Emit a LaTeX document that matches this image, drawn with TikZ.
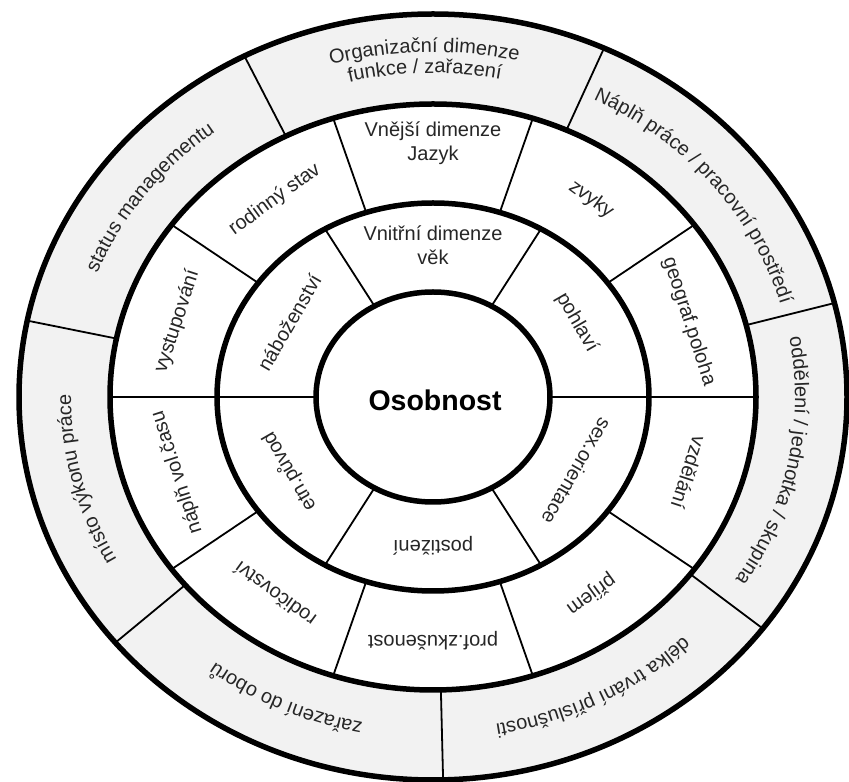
\documentclass[tikz,border=0pt]{standalone}
\usepackage{fontspec}
\setmainfont{Liberation Sans}
\usetikzlibrary{decorations.text}

\newcommand{\ringfont}{\fontsize{20}{24}\selectfont}
\newcommand{\corefont}{\bfseries\fontsize{28.5}{32}\selectfont}

\begin{document}
\begin{tikzpicture}[x=1pt, y=1pt,
		ring/.style={line width=5.5pt},
		divider/.style={line width=1.8pt},
		lbl/.style={font=\ringfont, text=black!85, inner sep=1pt},
		arclbl/.style={decorate, decoration={text along path, text align=center, text color=black!85}}]
	\fill[white] (0,0) rectangle (849,782);
	\useasboundingbox (0,0) rectangle (849,782);
	\begin{scope}[shift={(433,385)}]
		% outer ring, light gray
		\fill[black!5, even odd rule] (0,0) ellipse [x radius=414, y radius=383]
			(0,0) ellipse [x radius=323, y radius=293];
		\draw[divider]
			% inner ring, 6 parts
			(0:117 and 105) -- (0:216 and 194)
			(60:117 and 105) -- (60:216 and 194)
			(120:117 and 105) -- (120:216 and 194)
			(180:117 and 105) -- (180:216 and 194)
			(240:117 and 105) -- (240:216 and 194)
			(300:117 and 105) -- (300:216 and 194)
			% middle ring, 10 parts
			(0:216 and 194) -- (0:323 and 293)
			(36:216 and 194) -- (36:323 and 293)
			(72:216 and 194) -- (72:323 and 293)
			(108:216 and 194) -- (108:323 and 293)
			(144:216 and 194) -- (144:323 and 293)
			(180:216 and 194) -- (180:323 and 293)
			(216:216 and 194) -- (216:323 and 293)
			(252:216 and 194) -- (252:323 and 293)
			(288:216 and 194) -- (288:323 and 293)
			(324:216 and 194) -- (324:323 and 293)
			% outer ring, 7 parts
			(14.2:323 and 293) -- (14.2:414 and 383)
			(65.6:323 and 293) -- (65.6:414 and 383)
			(117.1:323 and 293) -- (117.1:414 and 383)
			(168.5:323 and 293) -- (168.5:414 and 383)
			(219.9:323 and 293) -- (219.9:414 and 383)
			(271.4:323 and 293) -- (271.4:414 and 383)
			(322.8:323 and 293) -- (322.8:414 and 383);
		\draw[ring] (0,0) ellipse [x radius=414, y radius=383];
		\draw[ring] (0,0) ellipse [x radius=323, y radius=293];
		\draw[ring] (0,0) ellipse [x radius=216, y radius=194];
		\draw[ring, fill=white] (0,0) ellipse [x radius=117, y radius=105];

		\node[font=\corefont] (osobnost) at (2,-3) {Osobnost};

		% inner ring
		\node[lbl, align=center] (vnitrni) at (0,152) {Vnitřní dimenze\\věk};
		\node[lbl, rotate=-60] (pohlavi) at (30:166 and 149) {pohlaví};
		\node[lbl, rotate=-120] (sexorient) at (-30:166 and 149) {sex.orientace};
		\node[lbl, rotate=180] (postizeni) at (-90:166 and 149) {postižení};
		\node[lbl, rotate=120] (etnpuvod) at (210:166 and 149) {etn.původ};
		\node[lbl, rotate=60] (nabozenstvi) at (150:166 and 149) {náboženství};

		% middle ring
		\node[lbl, align=center] (vnejsi) at (0,254) {Vnější dimenze\\Jazyk};
		\node[lbl, rotate=-36] (zvyky) at (54:269 and 244) {zvyky};
		\node[lbl, rotate=-72] (geograf) at (18:269 and 244) {geograf.poloha};
		\node[lbl, rotate=-108] (vzdelani) at (-18:269 and 244) {vzdělání};
		\node[lbl, rotate=-144] (prijem) at (-54:269 and 244) {příjem};
		\node[lbl, rotate=180] (profzkus) at (-90:269 and 244) {prof.zkušenost};
		\node[lbl, rotate=144] (rodicovstvi) at (234:269 and 244) {rodičovství};
		\node[lbl, rotate=108] (volcas) at (198:269 and 244) {náplň vol.času};
		\node[lbl, rotate=72] (vystupovani) at (162:269 and 244) {vystupování};
		\node[lbl, rotate=36] (rodstav) at (126:269 and 244) {rodinný stav};

		% outer ring, text along the arcs
		\path[arclbl, decoration={text={|\ringfont|Organizační dimenze}}]
			(117.1:377 and 345) arc[start angle=117.1, end angle=65.6, x radius=377, y radius=345];
		\path[arclbl, decoration={text={|\ringfont|funkce / zařazení}}]
			(117.1:354 and 324) arc[start angle=117.1, end angle=65.6, x radius=354, y radius=324];
		\path[arclbl, decoration={text={|\ringfont|Náplň práce / pracovní prostředí}}]
			(65.6:362 and 332) arc[start angle=65.6, end angle=14.2, x radius=362, y radius=332];
		\path[arclbl, decoration={text={|\ringfont|oddělení / jednotka / skupina}}]
			(14.2:362 and 332) arc[start angle=14.2, end angle=-37.2, x radius=362, y radius=332];
		\path[arclbl, decoration={text={|\ringfont|délka trvání příslušnosti}}]
			(-37.2:362 and 332) arc[start angle=-37.2, end angle=-88.6, x radius=362, y radius=332];
		\path[arclbl, decoration={text={|\ringfont|zařazení do oborů}}]
			(271.4:362 and 332) arc[start angle=271.4, end angle=219.9, x radius=362, y radius=332];
		\path[arclbl, decoration={text={|\ringfont|místo výkonu práce}}]
			(219.9:362 and 332) arc[start angle=219.9, end angle=168.5, x radius=362, y radius=332];
		\path[arclbl, decoration={text={|\ringfont|status managementu}}]
			(168.5:362 and 332) arc[start angle=168.5, end angle=117.1, x radius=362, y radius=332];
	\end{scope}
\end{tikzpicture}
\end{document}
